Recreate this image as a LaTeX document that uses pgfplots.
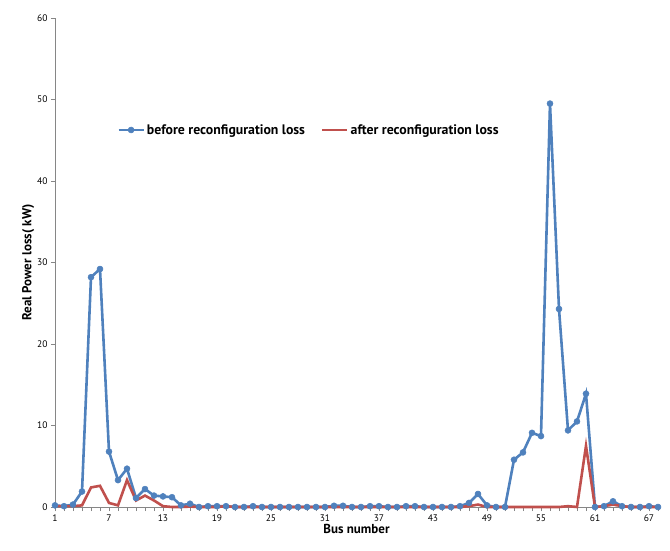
\documentclass[border=0pt]{standalone}
\usepackage{pgfplots}
\pgfplotsset{compat=1.18}
\usepackage{fontspec}
\setmainfont{PT Sans}
\definecolor{xlblue}{HTML}{4F81BD}
\definecolor{xlred}{HTML}{C0504D}
\definecolor{axgray}{HTML}{868686}
\begin{document}
\begin{tikzpicture}
\begin{axis}[
  scale only axis,
  width=603pt, height=489pt,
  at={(0,0)}, anchor=south west,
  xmin=1, xmax=68, ymin=0, ymax=60,
  axis x line=bottom, axis y line=left,
  axis line style={-, draw=axgray, line width=0.8pt},
  xtick={1,7,...,67},
  minor xtick={1,...,68},
  ytick={0,10,...,60},
  tick align=outside,
  major tick length=4pt, minor tick length=4pt,
  tick style={draw=axgray, line width=0.6pt},
  /pgf/number format/assume math mode=true,
  ticklabel style={font=\fontsize{9.5}{11}\selectfont},
  xlabel={\textbf{Bus number}},
  ylabel={\textbf{Real Power loss( kW)}},
  label style={font=\fontsize{13}{15}\selectfont},
  xlabel style={yshift=4pt},
  ylabel style={yshift=-4pt},
  legend style={draw=none, fill=none, at={(0.098,0.771)}, anchor=west,
    font=\bfseries\fontsize{13.8}{15}\selectfont, column sep=1pt,
    nodes={inner xsep=1pt},
    /tikz/every even column/.append style={column sep=15pt}},
  legend columns=2,
  legend image code/.code={
    \draw[#1, line width=2.6pt, mark repeat=2, mark phase=2] plot coordinates {(0pt,0pt) (12.5pt,0pt) (25pt,0pt)};},
  clip=false,
]
\addplot[color=xlblue, line width=2.6pt, mark=*, mark size=3pt, mark options={solid, fill=xlblue, draw=xlblue, line width=0.5pt}] coordinates {
(1,0.2)(2,0.1)(3,0.3)(4,1.9)(5,28.2)(6,29.2)(7,6.8)(8,3.3)(9,4.7)(10,1.1)
(11,2.2)(12,1.4)(13,1.3)(14,1.2)(15,0.2)(16,0.4)(17,0)(18,0.1)(19,0.1)(20,0.1)
(21,0)(22,0)(23,0.1)(24,0)(25,0)(26,0)(27,0)(28,0)(29,0)(30,0)
(31,0)(32,0.15)(33,0.15)(34,0)(35,0)(36,0.1)(37,0.1)(38,0)(39,0)(40,0.1)
(41,0.1)(42,0)(43,0)(44,0)(45,0)(46,0.1)(47,0.5)(48,1.6)(49,0.2)(50,0)
(51,0)(52,5.8)(53,6.7)(54,9.1)(55,8.7)(56,49.5)(57,24.3)(58,9.4)(59,10.5)(60,13.9)
(61,0)(62,0.1)(63,0.7)(64,0.1)(65,0)(66,0)(67,0.1)(68,0)
};
\addlegendentry{before reconfiguration loss}
\addplot[color=xlred, line width=2.6pt, mark=none] coordinates {
(1,0.1)(2,0.1)(3,0.1)(4,0.2)(5,2.4)(6,2.6)(7,0.5)(8,0.2)(9,3.3)(10,0.8)
(11,1.4)(12,0.8)(13,0.1)(14,0)(15,0)(16,0.05)(17,0)(18,0)(19,0)(20,0.1)
(21,0)(22,0)(23,0)(24,0)(25,0)(26,0)(27,0)(28,0)(29,0)(30,0)
(31,0)(32,0)(33,0)(34,0)(35,0)(36,0)(37,0)(38,0)(39,0)(40,0)
(41,0)(42,0)(43,0)(44,0)(45,0)(46,0)(47,0.1)(48,0.3)(49,0)(50,0)
(51,0)(52,0)(53,0)(54,0)(55,0)(56,0)(57,0)(58,0.1)(59,0)(60,7.5)
(61,0)(62,0.1)(63,0.3)(64,0.1)(65,0)(66,0)(67,0)(68,0)
};
\addlegendentry{after reconfiguration loss}
\end{axis}
\path (-55pt,-43pt) rectangle (615pt,507pt);
\end{tikzpicture}
\end{document}
